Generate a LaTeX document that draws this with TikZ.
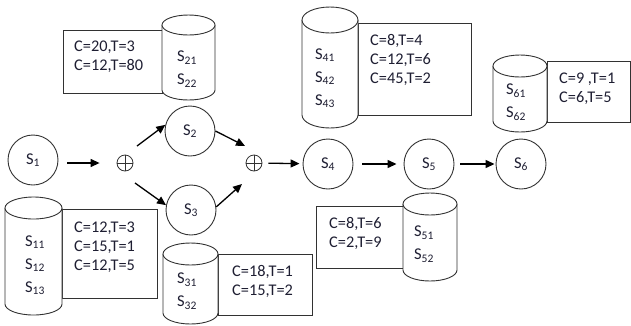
\documentclass[tikz,border=0pt]{standalone}
\usepackage{fontspec}
\setmainfont{Carlito}
\usetikzlibrary{arrows.meta,calc}
\definecolor{txt}{RGB}{30,30,50}
\definecolor{ln}{RGB}{50,50,50}
\tikzset{
 circ/.style={draw=ln, line width=0.9pt, circle, minimum size=50pt, inner sep=0pt, font=\fontsize{16.5}{18}\selectfont, text=txt},
 plus/.style={draw=ln, line width=0.8pt, circle, minimum size=16pt, inner sep=0pt},
 arr/.style={line width=1.3pt, -{Triangle[length=9pt,width=8pt]}},
 box/.style={draw=ln, line width=0.9pt},
 cylline/.style={draw=ln, line width=0.9pt, fill=white},
 vals/.style={anchor=west, inner sep=0pt, align=left, font=\fontsize{16.3}{19}\selectfont, text=txt},
 labs/.style={inner sep=0pt, align=center, font=\fontsize{16.5}{23}\selectfont, text=txt},
}
\newcommand\mycyl[5]{% cx, rx, top, bottom, ry
 \fill[white] (#1-#2,#3+#5) -- (#1-#2,#4-#5) arc[start angle=180,end angle=0,x radius=#2,y radius=#5] -- (#1+#2,#3+#5);
 \draw[draw=ln, line width=0.9pt] (#1-#2,#3+#5) -- (#1-#2,#4-#5) arc[start angle=180,end angle=0,x radius=#2,y radius=#5] -- (#1+#2,#3+#5);
 \draw[cylline] (#1,#3+#5) ellipse[x radius=#2, y radius=#5];
}
\begin{document}
\begin{tikzpicture}[x=1pt,y=-1pt]
\useasboundingbox (0,0) rectangle (631,325);
% main row
\node[circ] (s1) at (33,160) {S\textsubscript{1}};
\node[plus] (p1) at (125,163) {};
\draw[ln, line width=0.8pt] (p1.north) -- (p1.south) (p1.west) -- (p1.east);
\node[circ] (s2) at (190,131) {S\textsubscript{2}};
\node[circ] (s3) at (191,210) {S\textsubscript{3}};
\node[plus] (p2) at (254,163) {};
\draw[ln, line width=0.8pt] (p2.north) -- (p2.south) (p2.west) -- (p2.east);
\node[circ] (s4) at (328,164) {S\textsubscript{4}};
\node[circ] (s5) at (429,164) {S\textsubscript{5}};
\node[circ] (s6) at (521,164) {S\textsubscript{6}};
% arrows
\draw[arr, shorten <=9pt, shorten >=17pt] (s1.east |- p1) -- (p1);
\draw[arr] ([shift={(12,-17)}]p1.center) -- (s2.166);
\draw[arr] ([shift={(10,20)}]p1.center) -- (s3.169);
\draw[arr] (s2.east) -- ([shift={(-9,-17)}]p2.center);
\draw[arr] (s3.7) -- ([shift={(-12,21)}]p2.center);
\draw[arr, shorten <=6pt, shorten >=3pt] (p2) -- (s4);
\draw[arr, shorten <=9pt, shorten >=7pt] (s4) -- (s5);
\draw[arr, shorten <=6pt, shorten >=1pt] (s5) -- (s6);
% S2 group
\draw[box] (63,30) rectangle (162,93);
\mycyl{188.5}{26.5}{15}{100}{10}
\node[vals] (v2) at (74,57) {C=20,T=3\\C=12,T=80};
\node[labs] (l2) at (187,69) {S\textsubscript{21}\\S\textsubscript{22}};
% S4 group
\draw[box] (358,23) rectangle (471,115);
\mycyl{330}{28}{7}{128}{13}
\node[vals] (v4) at (370,60) {C=8,T=4\\C=12,T=6\\C=45,T=2};
\node[labs] (l4) at (325,78) {S\textsubscript{41}\\S\textsubscript{42}\\S\textsubscript{43}};
% S6 group
\draw[box] (547,61) rectangle (630,122);
\mycyl{520}{27}{55}{132}{11}
\node[vals] (v6) at (559,89) {C=9 ,T=1\\C=6,T=5};
\node[labs] (l6) at (516,102) {S\textsubscript{61}\\S\textsubscript{62}};
% S1 group
\draw[box] (62,209) rectangle (157,298);
\mycyl{33.5}{28.5}{197}{315}{11}
\node[vals] (v1) at (74,247) {C=12,T=3\\C=15,T=1\\C=12,T=5};
\node[labs] (l1) at (35,265) {S\textsubscript{11}\\S\textsubscript{12}\\S\textsubscript{13}};
% S3 group
\draw[box] (218,254) rectangle (312,315);
\mycyl{190.5}{27.5}{243}{324}{11}
\node[vals] (v3) at (232,281) {C=18,T=1\\C=15,T=2};
\node[labs] (l3) at (187,291) {S\textsubscript{31}\\S\textsubscript{32}};
% S5 group
\draw[box] (316,206) rectangle (403,268);
\mycyl{430}{27}{193}{281}{11}
\node[vals] (v5) at (329,233) {C=8,T=6\\C=2,T=9};
\node[labs] (l5) at (424,244) {S\textsubscript{51}\\S\textsubscript{52}};
\end{tikzpicture}
\end{document}
